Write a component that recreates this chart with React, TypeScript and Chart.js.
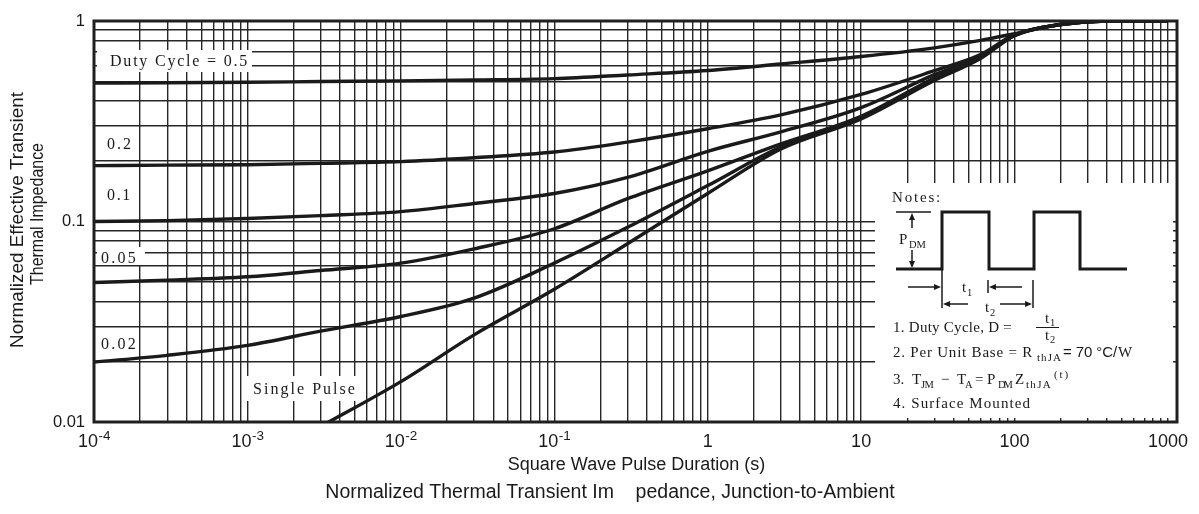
import React, { useEffect, useRef } from 'react';
import { Chart, registerables } from 'chart.js';

Chart.register(...registerables);

// ---------- data ----------
const pulseDurations = [1e-4, 3e-4, 1e-3, 3e-3, 1e-2, 3e-2, 0.1, 0.3, 1, 3, 10, 30, 60, 100, 200, 400, 1000];
const duty05 = [0.49, 0.492, 0.495, 0.499, 0.503, 0.508, 0.516, 0.538, 0.566, 0.61, 0.665, 0.735, 0.8, 0.865, 0.965, 1, 1];
const duty02 = [0.19, 0.191, 0.192, 0.195, 0.199, 0.208, 0.222, 0.249, 0.29, 0.34, 0.43, 0.565, 0.68, 0.855, 0.96, 1, 1];
const duty01 = [0.1, 0.101, 0.1035, 0.107, 0.112, 0.123, 0.138, 0.166, 0.224, 0.28, 0.37, 0.54, 0.665, 0.85, 0.96, 1, 1];
const duty005 = [0.0496, 0.051, 0.053, 0.057, 0.062, 0.073, 0.092, 0.13, 0.179, 0.244, 0.335, 0.52, 0.66, 0.85, 0.96, 1, 1];
const duty002 = [0.0199, 0.0215, 0.0241, 0.0284, 0.0336, 0.0415, 0.062, 0.0935, 0.151, 0.236, 0.33, 0.515, 0.655, 0.85, 0.96, 1, 1];
const singlePulse = [null, null, null, 0.0095, 0.0159, 0.0272, 0.0459, 0.0774, 0.138, 0.23, 0.325, 0.505, 0.65, 0.845, 0.96, 1, 1];

const seriesNames = ['Duty Cycle = 0.5', '0.2', '0.1', '0.05', '0.02', 'Single Pulse'];

const xTickValues = [1e-4, 1e-3, 1e-2, 1e-1, 1, 10, 100, 1000];
const xTickLabels = ['10^-4', '10^-3', '10^-2', '10^-1', '1', '10', '100', '1000'];
const yTickValues = [0.01, 0.1, 1];
const yTickLabels = ['0.01', '0.1', '1'];

const X_MIN = 1e-4;
const X_MAX = 1145;
const Y_MIN = 0.01;
const Y_MAX = 1;

const xTitle = 'Square Wave Pulse Duration (s)';
const yTitleLines = ['Normalized Effective Transient', 'Thermal Impedance'];
const bottomTitle = 'Normalized Thermal Transient Im    pedance, Junction-to-Ambient';

const SANS = '"Liberation Sans", Arial, sans-serif';
const SERIF = '"Liberation Serif", "Times New Roman", serif';
const INK = '#1a1a1a';

function logGrid(minExp: number, maxExp: number, max: number) {
  const out: { value: number }[] = [];
  for (let e = minExp; e <= maxExp; e++) {
    for (let m = 1; m <= 9; m++) {
      const v = parseFloat((m * Math.pow(10, e)).toPrecision(6));
      if (v <= max * 1.0000001) out.push({ value: v });
    }
  }
  return out;
}

function toPoints(values: (number | null)[]) {
  const pts: { x: number; y: number }[] = [];
  values.forEach((v, i) => {
    if (v !== null) pts.push({ x: pulseDurations[i], y: v });
  });
  return pts;
}

function spacedText(ctx: CanvasRenderingContext2D, text: string, x: number, y: number, font: string, width?: number) {
  ctx.font = font;
  (ctx as any).letterSpacing = '0px';
  if (width) {
    const w = ctx.measureText(text).width;
    const n = [...text].length;
    (ctx as any).letterSpacing = `${(width - w) / n}px`;
  }
  ctx.fillText(text, x, y);
  (ctx as any).letterSpacing = '0px';
}

function condensedRotated(ctx: CanvasRenderingContext2D, text: string, cx: number, cy: number, font: string, length: number) {
  ctx.save();
  ctx.translate(cx, cy);
  ctx.rotate(-Math.PI / 2);
  ctx.font = font;
  const w = ctx.measureText(text).width;
  ctx.scale(length / w, 1);
  ctx.textAlign = 'center';
  ctx.textBaseline = 'middle';
  ctx.fillText(text, 0, 0);
  ctx.restore();
}

function arrow(ctx: CanvasRenderingContext2D, x1: number, y1: number, x2: number, y2: number) {
  const a = Math.atan2(y2 - y1, x2 - x1);
  const hl = 7;
  const hw = 3;
  const bx = x2 - hl * Math.cos(a);
  const by = y2 - hl * Math.sin(a);
  ctx.beginPath();
  ctx.moveTo(x1, y1);
  ctx.lineTo(bx, by);
  ctx.stroke();
  ctx.beginPath();
  ctx.moveTo(x2, y2);
  ctx.lineTo(bx + hw * Math.sin(a), by - hw * Math.cos(a));
  ctx.lineTo(bx - hw * Math.sin(a), by + hw * Math.cos(a));
  ctx.closePath();
  ctx.fill();
}

function line(ctx: CanvasRenderingContext2D, x1: number, y1: number, x2: number, y2: number) {
  ctx.beginPath();
  ctx.moveTo(x1, y1);
  ctx.lineTo(x2, y2);
  ctx.stroke();
}

const decorPlugin = {
  id: 'decor',
  beforeDatasetsDraw(chart: any) {
    const ctx: CanvasRenderingContext2D = chart.ctx;
    ctx.save();
    ctx.fillStyle = '#ffffff';
    // label backgrounds
    ctx.fillRect(97, 50, 155, 22);
    ctx.fillRect(97, 247, 48, 18);
    ctx.fillRect(247, 376, 111, 25);
    // notes box
    ctx.fillRect(875, 183, 298, 235);
    ctx.restore();
  },
  afterDatasetsDraw(chart: any) {
    const ctx: CanvasRenderingContext2D = chart.ctx;
    const area = chart.chartArea;
    const xs = chart.scales.x;
    ctx.save();

    // plot frame
    ctx.strokeStyle = '#202020';
    ctx.lineWidth = 3;
    ctx.strokeRect(area.left, area.top, area.right - area.left, area.bottom - area.top);

    ctx.fillStyle = INK;
    ctx.textAlign = 'left';
    ctx.textBaseline = 'alphabetic';

    // curve labels
    const lf = `16px ${SERIF}`;
    spacedText(ctx, seriesNames[0], 110, 66, lf, 139);
    spacedText(ctx, seriesNames[1], 107, 149, lf, 26);
    spacedText(ctx, seriesNames[2], 107, 200, lf, 25);
    spacedText(ctx, seriesNames[3], 101, 263, lf, 37);
    spacedText(ctx, seriesNames[4], 101, 349, lf, 37);
    spacedText(ctx, seriesNames[5], 253, 394, lf, 104);

    // x tick labels with superscripts
    xTickValues.forEach((v, i) => {
      const px = xs.getPixelForValue(v);
      const [base, exp] = xTickLabels[i].split('^');
      ctx.font = `18px ${SANS}`;
      const bw = ctx.measureText(base).width;
      let ew = 0;
      if (exp) {
        ctx.font = `13.5px ${SANS}`;
        ew = ctx.measureText(exp).width;
      }
      const start = px - (bw + ew) / 2;
      ctx.font = `18px ${SANS}`;
      ctx.fillText(base, start, 447);
      if (exp) {
        ctx.font = `13.5px ${SANS}`;
        ctx.fillText(exp, start + bw + 0.5, 440);
      }
    });

    // axis titles
    ctx.textAlign = 'center';
    ctx.textBaseline = 'middle';
    ctx.font = `18px ${SANS}`;
    ctx.fillText(xTitle, (area.left + area.right) / 2 + 1, 465);
    ctx.font = `19.5px ${SANS}`;
    ctx.fillText(bottomTitle, 610, 493);
    condensedRotated(ctx, yTitleLines[0], 18, 220, `19px ${SANS}`, 256);
    condensedRotated(ctx, yTitleLines[1], 38, 214, `18px ${SANS}`, 142);

    // ---------- notes ----------
    ctx.textAlign = 'left';
    ctx.textBaseline = 'alphabetic';
    const nf = `15px ${SERIF}`;
    const sub = `10.5px ${SERIF}`;
    spacedText(ctx, 'Notes:', 892, 202, nf, 50);

    // square wave
    ctx.strokeStyle = INK;
    ctx.lineWidth = 3;
    ctx.lineJoin = 'miter';
    ctx.beginPath();
    ctx.moveTo(896, 269);
    ctx.lineTo(942, 269);
    ctx.lineTo(942, 212);
    ctx.lineTo(989, 212);
    ctx.lineTo(989, 269);
    ctx.lineTo(1034, 269);
    ctx.lineTo(1034, 212);
    ctx.lineTo(1080, 212);
    ctx.lineTo(1080, 269);
    ctx.lineTo(1127, 269);
    ctx.stroke();

    ctx.lineWidth = 1.5;
    // P_DM
    line(ctx, 896, 212, 931, 212);
    arrow(ctx, 912, 228, 912, 213);
    arrow(ctx, 912, 250, 912, 268);
    spacedText(ctx, 'P', 899, 244, nf);
    spacedText(ctx, 'DM', 909, 248, sub);
    // t1 / t2 markers
    line(ctx, 942, 269, 942, 308);
    line(ctx, 988, 280, 988, 293);
    line(ctx, 1033, 280, 1033, 308);
    arrow(ctx, 908, 287, 941, 287);
    arrow(ctx, 1022, 287, 989, 287);
    arrow(ctx, 968, 304, 943, 304);
    arrow(ctx, 1000, 304, 1032, 304);
    spacedText(ctx, 't', 962, 292, nf);
    spacedText(ctx, '1', 967, 296, sub);
    spacedText(ctx, 't', 985, 312, nf);
    spacedText(ctx, '2', 990, 316, sub);

    // 1.
    spacedText(ctx, '1. Duty Cycle, D =', 893, 332, nf, 119);
    spacedText(ctx, 't', 1045, 323, nf);
    spacedText(ctx, '1', 1050, 326, sub);
    ctx.lineWidth = 1;
    line(ctx, 1036, 327.5, 1059, 327.5);
    spacedText(ctx, 't', 1045, 340, nf);
    spacedText(ctx, '2', 1050, 343, sub);

    // 2.
    spacedText(ctx, '2. Per Unit Base = R', 893, 357, nf, 140);
    spacedText(ctx, 'thJA', 1037, 361, `11px ${SERIF}`, 25);
    spacedText(ctx, '= 70 °C/', 1063, 357, `15px ${SANS}`, 54);
    spacedText(ctx, 'W', 1118, 357, nf);

    // 3.
    const b3 = 384;
    spacedText(ctx, '3.', 893, b3, nf);
    spacedText(ctx, 'T', 912, b3, nf);
    spacedText(ctx, 'JM', 921, b3 + 4, sub, 12);
    spacedText(ctx, '\u2212', 941, b3, nf);
    spacedText(ctx, 'T', 957, b3, nf);
    spacedText(ctx, 'A', 965, b3 + 4, sub);
    spacedText(ctx, '=', 975, b3, nf);
    spacedText(ctx, 'P', 987, b3, nf);
    spacedText(ctx, 'DM', 998, b3 + 4, sub, 13);
    spacedText(ctx, 'Z', 1015, b3, nf);
    spacedText(ctx, 'thJA', 1026, b3 + 4, `11px ${SERIF}`, 26);
    spacedText(ctx, '(t)', 1054, b3 - 6, `11px ${SERIF}`, 16);

    // 4.
    spacedText(ctx, '4. Surface Mounted', 893, 408, nf, 138);

    ctx.restore();
  },
};

export default function App() {
  const ref = useRef<HTMLCanvasElement>(null);

  useEffect(() => {
    const canvas = ref.current;
    if (!canvas) return;
    const seriesValues = [duty05, duty02, duty01, duty005, duty002, singlePulse];
    const datasets = seriesValues.map((vals, i) => ({
      label: seriesNames[i],
      data: toPoints(vals),
      borderColor: INK,
      backgroundColor: INK,
      borderWidth: 3.4,
      pointRadius: 0,
      fill: false,
      cubicInterpolationMode: 'monotone' as const,
      spanGaps: true,
    }));

    const gridOpts = { color: '#262626', lineWidth: 1.4, drawTicks: false };

    const chart = new Chart(canvas, {
      type: 'line',
      data: { datasets },
      options: {
        responsive: false,
        animation: false,
        events: [],
        layout: { padding: { left: 0, top: 21, right: 22, bottom: 0 } },
        plugins: {
          legend: { display: false },
          tooltip: { enabled: false },
          title: { display: false },
        },
        scales: {
          x: {
            type: 'logarithmic',
            min: X_MIN,
            max: X_MAX,
            grid: gridOpts,
            border: { display: false },
            ticks: { display: false },
            afterBuildTicks: (s: any) => {
              s.ticks = logGrid(-4, 3, X_MAX);
            },
            afterFit: (s: any) => {
              s.height = 92;
            },
          },
          y: {
            type: 'logarithmic',
            min: Y_MIN,
            max: Y_MAX,
            grid: gridOpts,
            border: { display: false },
            ticks: {
              autoSkip: false,
              padding: 9,
              color: INK,
              font: { family: SANS, size: 16.5 },
              callback: (value: any) => {
                const v = Number(value);
                const i = yTickValues.findIndex((t) => Math.abs(t - v) / t < 1e-6);
                return i >= 0 ? yTickLabels[i] : '';
              },
            },
            afterBuildTicks: (s: any) => {
              s.ticks = logGrid(-2, 0, Y_MAX);
            },
            afterFit: (s: any) => {
              s.width = 94;
            },
          },
        },
      },
      plugins: [decorPlugin],
    } as any);

    return () => chart.destroy();
  }, []);

  return (
    <div style={{ position: 'absolute', left: 0, top: 0, width: 1199, height: 514, background: '#ffffff' }}>
      <canvas ref={ref} width={1199} height={514} style={{ display: 'block', width: 1199, height: 514 }} />
    </div>
  );
}
